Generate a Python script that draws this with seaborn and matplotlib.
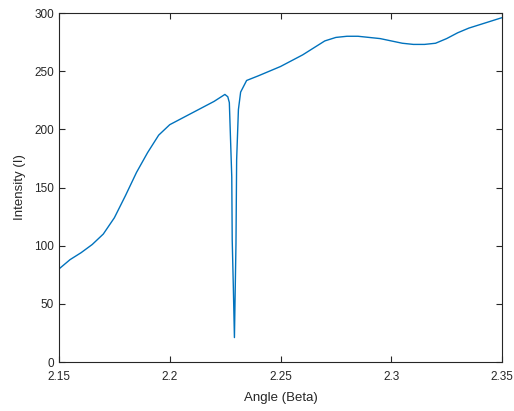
import numpy as np
import pandas as pd
import matplotlib
matplotlib.use("Agg")
import matplotlib.pyplot as plt
import seaborn as sns

# values
angle = [2.150, 2.155, 2.160, 2.165, 2.170, 2.175, 2.180, 2.185, 2.190, 2.195,
         2.200, 2.205, 2.210, 2.215, 2.220, 2.2249, 2.2262, 2.2269, 2.2280, 2.2282,
         2.2287, 2.2292, 2.2299, 2.2302, 2.2310, 2.2320, 2.2347, 2.240, 2.245, 2.250,
         2.255, 2.260, 2.265, 2.270, 2.275, 2.280, 2.285, 2.290, 2.295, 2.300,
         2.305, 2.310, 2.315, 2.320, 2.325, 2.330, 2.335, 2.340, 2.345, 2.350]
intensity = [80, 88, 94, 101, 110, 124, 143, 163, 180, 195,
             204, 209, 214, 219, 224, 230, 228, 223, 159, 105,
             65, 21, 102, 174, 217, 232, 242, 246, 250, 254,
             259, 264, 270, 276, 279, 280, 280, 279, 278, 276,
             274, 273, 273, 274, 278, 283, 287, 290, 293, 296]

x_ticks = [2.15, 2.2, 2.25, 2.3, 2.35]
x_tick_labels = ["2.15", "2.2", "2.25", "2.3", "2.35"]
y_ticks = [0, 50, 100, 150, 200, 250, 300]

df = pd.DataFrame({"angle": angle, "intensity": intensity})

sns.set_style("white")
plt.rcParams["font.family"] = ["Liberation Sans", "DejaVu Sans"]

fig = plt.figure(figsize=(5.14, 4.11), dpi=100)
ax = fig.add_axes([59 / 514, 1 - 362 / 411, 443 / 514, 349 / 411])

sns.lineplot(data=df, x="angle", y="intensity", ax=ax, color="#0072BD", linewidth=1.0)

ax.set_xlim(2.15, 2.35)
ax.set_ylim(0, 300)
ax.set_xticks(x_ticks)
ax.set_xticklabels(x_tick_labels)
ax.set_yticks(y_ticks)

dark = "#262626"
for s in ax.spines.values():
    s.set_visible(True)
    s.set_color(dark)
    s.set_linewidth(0.8)
ax.tick_params(direction="in", length=4, width=0.8, colors=dark, labelsize=8.5,
               top=True, right=True, bottom=True, left=True)
ax.tick_params(axis="x", pad=6.5)
ax.set_xlabel("Angle (Beta)", fontsize=9.5, color=dark, labelpad=6.5)
ax.set_ylabel("Intensity (I)", fontsize=9.5, color=dark, labelpad=6)

fig.savefig("out.png", dpi=100, facecolor="white")
